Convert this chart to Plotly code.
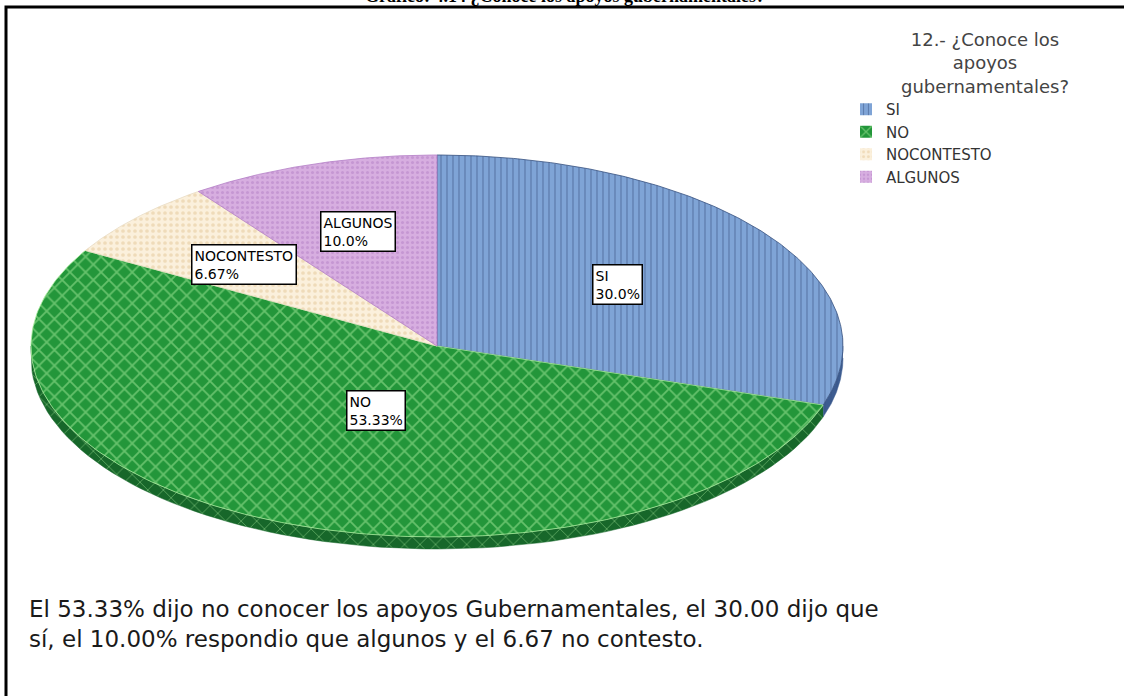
import numpy as np
import plotly.graph_objects as go

# datos
categorias = ["SI", "NO", "NOCONTESTO", "ALGUNOS"]
porcentajes = [30.0, 53.33, 6.67, 10.0]
etiquetas_pct = ["30.0%", "53.33%", "6.67%", "10.0%"]

titulo = "Gráfico: 4.14 ¿Conoce los apoyos gubernamentales?"
titulo_leyenda = "12.- ¿Conoce los<br>apoyos<br>gubernamentales?"
nota = ("El 53.33% dijo no conocer los apoyos Gubernamentales, el 30.00 dijo que<br>"
        "sí, el 10.00% respondio que algunos y el 6.67 no contesto.")

# estilos
fondos = ["#7fa4d6", "#23963a", "#fbf0dc", "#d7aee0"]
tramas = ["#36507f", "#a8ec9c", "#e3c596", "#b47fc6"]
formas = ["|", "x", ".", "."]
tamanos = [6, 11, 6, 5]
lados = ["#3d5c90", "#17672a", "#d9c8a8", "#9d6fae"]
radio_etq = [0.55, 0.37, 0.64, 0.63]

cx, cy, a, b, prof = 437, 346, 406, 191, 12


def punto(t, dy=0):
    return cx + a * np.sin(t), cy - b * np.cos(t) + dy


fig = go.Figure()

total = sum(porcentajes)
limites = np.cumsum([0] + porcentajes) / total * 2 * np.pi

# costado (efecto 3d) primero
for i, cat in enumerate(categorias):
    t0, t1 = max(limites[i], np.pi / 2), min(limites[i + 1], 3 * np.pi / 2)
    if t1 <= t0:
        continue
    t = np.linspace(t0, t1, 80)
    x1, y1 = punto(t)
    x2, y2 = punto(t[::-1], prof)
    fig.add_trace(go.Scatter(
        x=np.concatenate([x1, x2]), y=np.concatenate([y1, y2]),
        fill="toself", mode="lines", line=dict(color=lados[i], width=0.5),
        fillcolor=lados[i],
        fillpattern=dict(shape=formas[i], bgcolor=lados[i], fgcolor=tramas[i],
                         size=tamanos[i], solidity=0.15),
        showlegend=False, hoverinfo="skip"))

# caras superiores
for i, cat in enumerate(categorias):
    t = np.linspace(limites[i], limites[i + 1], 200)
    xs, ys = punto(t)
    patron = dict(shape=formas[i], bgcolor=fondos[i], fgcolor=tramas[i],
                  size=tamanos[i], solidity=0.2 if i == 0 else 0.3)
    fig.add_trace(go.Scatter(
        x=np.concatenate([[cx], xs, [cx]]), y=np.concatenate([[cy], ys, [cy]]),
        fill="toself", mode="lines", name=cat, showlegend=False,
        line=dict(color=tramas[i] if i != 2 else "#e8dcc4", width=0.8),
        fillcolor=fondos[i], fillpattern=patron,
        hoverinfo="text", text=f"{cat}: {etiquetas_pct[i]}"))
    # entrada de leyenda (cuadro con trama)
    fig.add_trace(go.Bar(x=[None], y=[None], name=cat,
                         marker=dict(color=fondos[i], pattern=patron,
                                     line=dict(width=0))))

    tm = (limites[i] + limites[i + 1]) / 2
    ex = cx + a * radio_etq[i] * np.sin(tm)
    ey = cy - b * radio_etq[i] * np.cos(tm)
    fig.add_annotation(x=ex, y=ey, xref="x", yref="y", showarrow=False,
                       text=f"{cat}<br>{etiquetas_pct[i]}", align="left",
                       bgcolor="white", bordercolor="black", borderwidth=1.5,
                       borderpad=2,
                       font=dict(family="DejaVu Sans", size=14, color="black"))

fig.add_annotation(x=565, y=8, xref="x", yref="y", yanchor="bottom",
                   showarrow=False, text=f"<b>{titulo}</b>",
                   font=dict(family="Liberation Serif", size=18, color="black"))

fig.add_annotation(x=985, y=27, xref="x", yref="y", yanchor="top",
                   showarrow=False, text=titulo_leyenda, align="center",
                   font=dict(family="DejaVu Sans", size=18, color="#444444"))

fig.add_annotation(x=27, y=594, xref="x", yref="y", xanchor="left", yanchor="top",
                   showarrow=False, text=nota, align="left",
                   font=dict(family="DejaVu Sans", size=23, color="#1a1a1a"))

# marco
fig.add_shape(type="path", path="M 6 700 L 6 7 L 1130 7", xref="x", yref="y",
              line=dict(color="black", width=3))

fig.update_layout(
    width=1124, height=696,
    margin=dict(l=0, r=0, t=0, b=0),
    paper_bgcolor="white", plot_bgcolor="white",
    xaxis=dict(range=[0, 1124], visible=False, fixedrange=True),
    yaxis=dict(range=[696, 0], visible=False, fixedrange=True),
    showlegend=True,
    legend=dict(
        x=846 / 1124, y=1 - 93 / 696, xanchor="left", yanchor="top",
        bgcolor="rgba(0,0,0,0)",
        font=dict(family="DejaVu Sans", size=15, color="#333333"),
        tracegroupgap=0, itemwidth=30,
    ),
)

fig.write_html("out.html", config={"displayModeBar": False},
               post_script="document.body.style.margin='0';")
